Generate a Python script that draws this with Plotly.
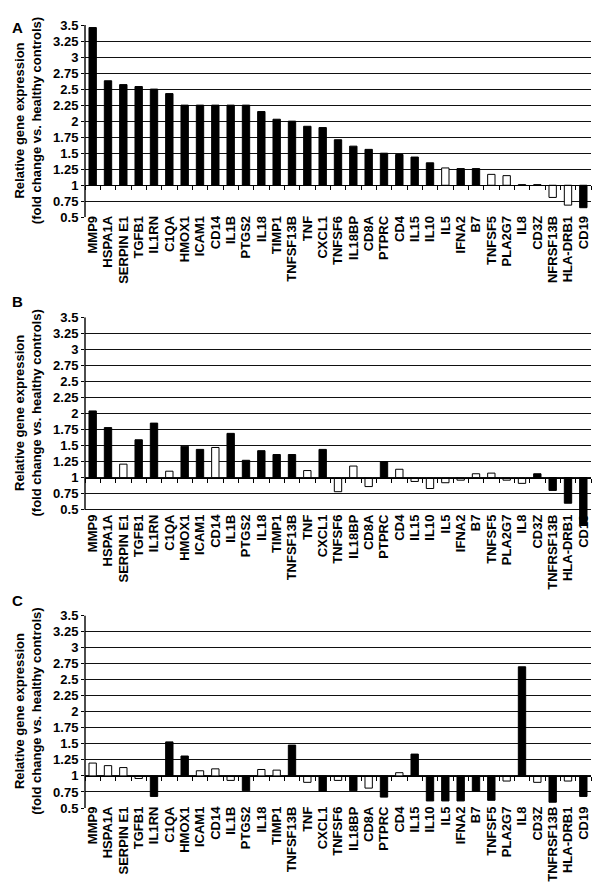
import plotly.graph_objects as go

# gene order as printed under each panel (panel A has the "NFRSF13B" spelling)
genes_a = ["MMP9", "HSPA1A", "SERPIN E1", "TGFB1", "IL1RN", "C1QA", "HMOX1", "ICAM1",
           "CD14", "IL1B", "PTGS2", "IL18", "TIMP1", "TNFSF13B", "TNF", "CXCL1",
           "TNFSF6", "IL18BP", "CD8A", "PTPRC", "CD4", "IL15", "IL10", "IL5", "IFNA2",
           "B7", "TNFSF5", "PLA2G7", "IL8", "CD3Z", "NFRSF13B", "HLA-DRB1", "CD19"]
genes_bc = genes_a[:30] + ["TNFRSF13B", "HLA-DRB1", "CD19"]

# relative expression (fold change vs healthy controls)
vals_a = [3.46, 2.63, 2.57, 2.54, 2.50, 2.43, 2.25, 2.25, 2.25, 2.25, 2.25, 2.15, 2.03,
          2.00, 1.92, 1.90, 1.71, 1.61, 1.56, 1.50, 1.48, 1.44, 1.35, 1.27, 1.26, 1.26,
          1.17, 1.15, 1.01, 1.01, 0.81, 0.69, 0.65]
vals_b = [2.04, 1.78, 1.21, 1.59, 1.85, 1.10, 1.49, 1.44, 1.47, 1.69, 1.27, 1.42, 1.36,
          1.36, 1.11, 1.44, 0.78, 1.18, 0.86, 1.25, 1.13, 0.94, 0.83, 0.92, 0.96, 1.06,
          1.07, 0.96, 0.91, 1.06, 0.80, 0.60, 0.27]
vals_c = [1.20, 1.16, 1.13, 0.96, 0.68, 1.53, 1.31, 1.08, 1.11, 0.93, 0.77, 1.10, 1.09,
          1.48, 0.90, 0.76, 0.93, 0.77, 0.81, 0.67, 1.05, 1.34, 0.61, 0.61, 0.61, 0.76,
          0.62, 0.92, 2.70, 0.90, 0.59, 0.92, 0.68]

# 1 = black (filled) bar, 0 = white bar
sig_a = [1]*23 + [0, 1, 1, 0, 0, 0, 0, 0, 0, 1]
sig_b = [1, 1, 0, 1, 1, 0, 1, 1, 0, 1, 1, 1, 1, 1, 0, 1, 0, 0, 0, 1, 0, 0, 0, 0, 0, 0,
         0, 0, 0, 1, 1, 1, 1]
sig_c = [0, 0, 0, 0, 1, 1, 1, 0, 0, 0, 1, 0, 0, 1, 0, 1, 0, 1, 0, 1, 0, 1, 1, 1, 1, 1,
         1, 0, 1, 0, 1, 0, 1]

y_ticks = [0.5, 0.75, 1, 1.25, 1.5, 1.75, 2, 2.25, 2.5, 2.75, 3, 3.25, 3.5]
y_ticktext = ["0.5", "0.75", "1", "1.25", "1.5", "1.75", "2", "2.25", "2.5", "2.75",
              "3", "3.25", "3.5"]

panels = [
    ("A", genes_a, vals_a, sig_a, [0.7544, 1.0], [0.5, 3.5], -5),
    ("B", genes_bc, vals_b, sig_b, [0.3614, 0.6266], [0.26, 3.5], -14),
    ("C", genes_bc, vals_c, sig_c, [0.0, 0.2459], [0.5, 3.5], -5),
]

FONT = "Liberation Sans, Arial, sans-serif"
n = len(genes_a)
idx = list(range(n))

fig = go.Figure()
layout = dict(width=602, height=893, margin=dict(l=77, r=19, t=10, b=93),
              paper_bgcolor="white", plot_bgcolor="white", showlegend=False,
              font=dict(family=FONT, color="black"))
annotations = []
shapes = []

for i, (letter, genes, vals, sig, dom, yr, standoff) in enumerate(panels):
    k = "" if i == 0 else str(i + 1)
    xa, ya = "x" + k, "y" + k
    fig.add_trace(go.Bar(
        x=idx, y=[v - 1 for v in vals], base=1, width=0.48,
        marker=dict(color=["black" if s else "white" for s in sig],
                    line=dict(color="black", width=1)),
        xaxis=xa, yaxis=ya, hoverinfo="skip"))

    layout["xaxis" + k] = dict(
        domain=[0, 1], anchor=ya, range=[-0.5, n - 0.5],
        tickmode="array", tickvals=idx, ticktext=genes, tickangle=-90,
        ticks="", showline=False, showgrid=False, zeroline=False,
        ticklabelstandoff=standoff,
        tickfont=dict(family=FONT, size=13, weight="bold"))
    layout["yaxis" + k] = dict(
        domain=dom, anchor=xa, range=yr,
        tickmode="array", tickvals=y_ticks, ticktext=y_ticktext,
        ticks="outside", ticklen=3, tickcolor="black",
        showgrid=True, gridcolor="#111", gridwidth=1.2,
        showline=False, zeroline=False,
        tickfont=dict(family=FONT, size=13, weight="bold"))

    # category axis drawn through y = 1 with ticks on the category boundaries
    pos = dom[0] + (1 - yr[0]) / (yr[1] - yr[0]) * (dom[1] - dom[0])
    ko = str(i + 4)
    fig.add_trace(go.Scatter(x=[], y=[], xaxis="x" + ko, yaxis=ya,
                             showlegend=False, hoverinfo="skip"))
    layout["xaxis" + ko] = dict(
        overlaying=xa, anchor="free", position=pos, range=[-0.5, n - 0.5],
        tickmode="array", tickvals=[j - 0.5 for j in range(n + 1)],
        ticks="outside", ticklen=4, tickcolor="black", tickwidth=1.2,
        showticklabels=False, showline=True, linecolor="black", linewidth=1.2,
        showgrid=False, zeroline=False)

    # left value axis line from 0.5 to 3.5
    shapes.append(dict(type="line", xref=xa + " domain", yref=ya,
                       x0=0, x1=0, y0=y_ticks[0], y1=y_ticks[-1],
                       line=dict(color="black", width=1.4)))

    annotations.append(dict(
        text="Relative gene expression<br>(fold change vs. healthy controls)",
        xref="paper", yref=ya, x=0, y=(y_ticks[0] + y_ticks[-1]) / 2,
        xanchor="center", yanchor="middle", xshift=-57, textangle=-90,
        showarrow=False, font=dict(family=FONT, size=13, weight="bold")))

    annotations.append(dict(
        text=letter, xref="paper", yref=ya, x=0, y=y_ticks[-1],
        xanchor="center", yanchor="middle", xshift=-68,
        yshift={"A": -2, "B": 16, "C": 15}[letter],
        showarrow=False, font=dict(family=FONT, size=15, weight="bold")))

layout["annotations"] = annotations
layout["shapes"] = shapes
fig.update_layout(**layout)

fig.write_html("out.html")
